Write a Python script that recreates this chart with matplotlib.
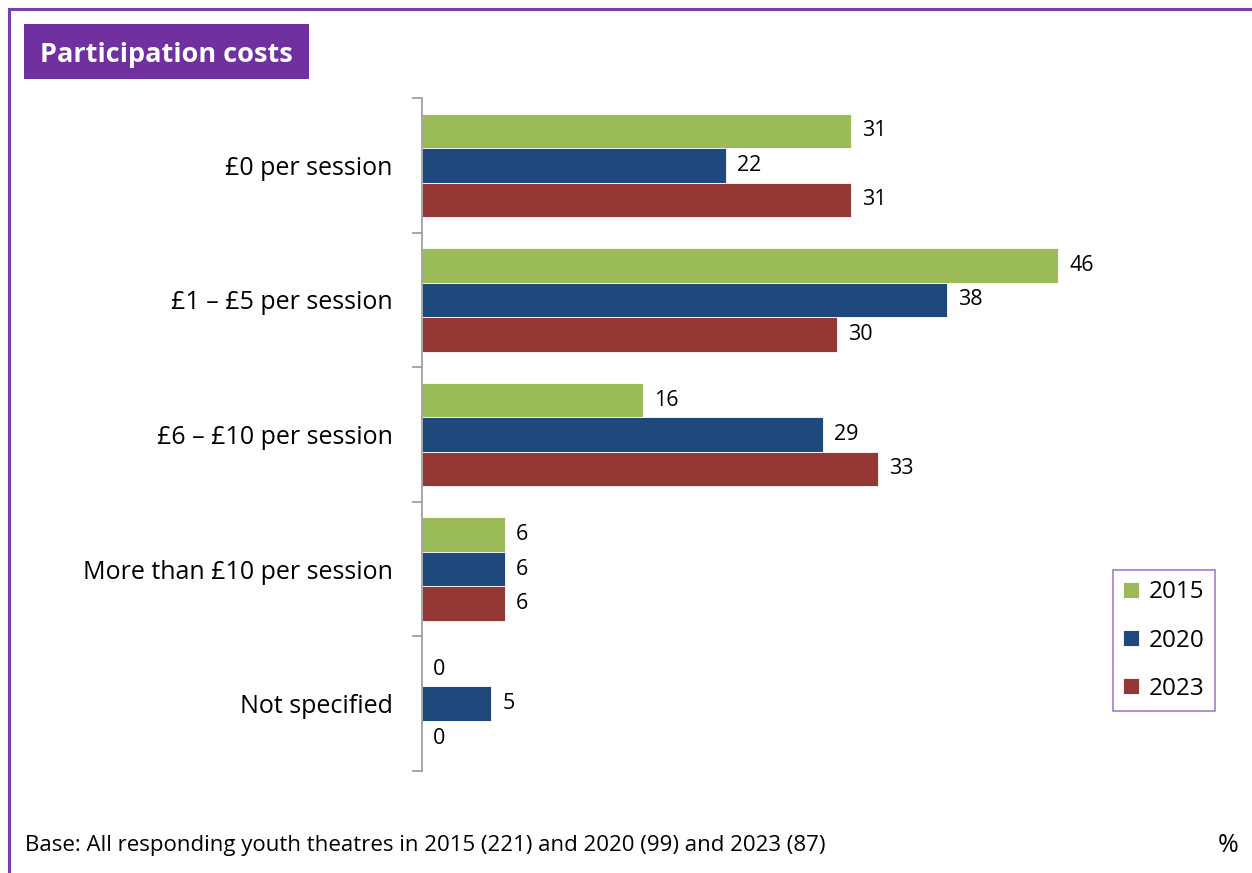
import matplotlib
matplotlib.use("Agg")
import matplotlib.pyplot as plt
from matplotlib.patches import Rectangle
from matplotlib.lines import Line2D
import numpy as np

categories = ["£0 per session", "£1 – £5 per session", "£6 – £10 per session",
              "More than £10 per session", "Not specified"]
years = ["2015", "2020", "2023"]
v2015 = [31, 46, 16, 6, 0]
v2020 = [22, 38, 29, 6, 5]
v2023 = [31, 30, 33, 6, 0]
colors = ["#9BBB59", "#1F497D", "#953735"]

W, H = 1252, 873
fig = plt.figure(figsize=(W / 100, H / 100), dpi=100)
font = ["Open Sans", "DejaVu Sans"]

# frame lines
fig.add_artist(Line2D([9 / W, 9 / W], [0, 1 - 9 / H], color="#7A3DB0", lw=2.2, transform=fig.transFigure))
fig.add_artist(Line2D([9 / W, 1], [1 - 9 / H, 1 - 9 / H], color="#7A3DB0", lw=2.2, transform=fig.transFigure))

# title box
fig.add_artist(Rectangle((24 / W, 1 - 79 / H), 285 / W, 55 / H, facecolor="#7030A0",
                         edgecolor="none", transform=fig.transFigure))
fig.text(166 / W, 1 - 55 / H, "Participation costs", color="white", fontsize=19.5,
         fontweight="bold", ha="center", va="center", family=font)

xmax = 50
left, right = 422 / W, (422 + 636 / 46 * xmax) / W
top, bottom = 1 - 98 / H, 1 - 771 / H
ax = fig.add_axes([left, bottom, right - left, top - bottom])

n = len(categories)
y = np.arange(n)
h = 0.256
series = [v2015, v2020, v2023]
for i, (vals, c, yr) in enumerate(zip(series, colors, years)):
    pos = y + (i - 1) * h
    ax.barh(pos, vals, height=h, color=c, label=yr, edgecolor="white", linewidth=0.6)
    for p, v in zip(pos, vals):
        ax.annotate(str(v), (v, p), xytext=(8, 0), textcoords="offset points",
                    ha="left", va="center", fontsize=15.5, family=font, color="black")

ax.set_xlim(0, xmax)
ax.set_ylim(n - 0.5, -0.5)
ax.set_yticks(y)
ax.set_yticklabels(categories, fontsize=18, family=font)
ax.set_yticks(np.arange(-0.5, n, 1), minor=True)
ax.tick_params(axis="y", which="major", length=0, pad=21)
ax.tick_params(axis="y", which="minor", length=7, color="#A0A0A0", width=1.3)
ax.set_xticks([])
for s in ["top", "right", "bottom"]:
    ax.spines[s].set_visible(False)
ax.spines["left"].set_color("#A0A0A0")
ax.spines["left"].set_linewidth(1.3)

leg = fig.legend(loc="upper left", bbox_to_anchor=(1113 / W, 1 - 570 / H),
                 prop={"family": font, "size": 17.5}, frameon=True, fancybox=False,
                 handlelength=0.65, handleheight=0.65, handletextpad=0.4,
                 labelspacing=1.0, borderpad=0.42, borderaxespad=0)
leg.get_frame().set_edgecolor("#8A5CC0")
leg.get_frame().set_linewidth(1.2)

fig.text(25 / W, 1 - 846 / H, "Base: All responding youth theatres in 2015 (221) and 2020 (99) and 2023 (87)",
         fontsize=16, ha="left", va="center", family=font)
fig.text(1228 / W, 1 - 846 / H, "%", fontsize=18, ha="center", va="center", family=font)

fig.savefig("out.png", dpi=100)
